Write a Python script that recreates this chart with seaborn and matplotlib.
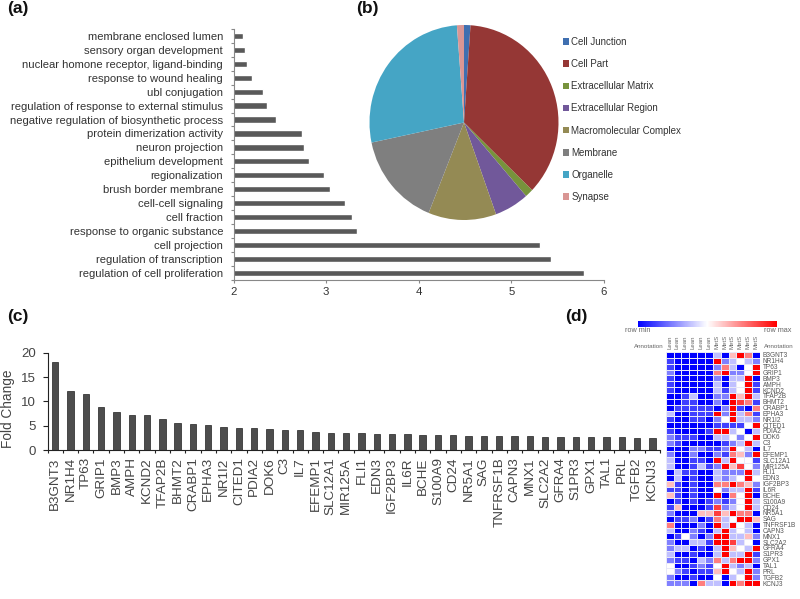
################################################
#                 Libraries
################################################
import numpy as np
import matplotlib
matplotlib.use("Agg")
import matplotlib.pyplot as plt
from matplotlib.colors import LinearSegmentedColormap
from matplotlib.patches import Patch
from matplotlib.ticker import FixedLocator
import seaborn as sns

################################################
#                   Data
################################################
# (a) enrichment scores
go_terms = ["membrane enclosed lumen", "sensory organ development",
            "nuclear homone receptor, ligand-binding", "response to wound healing",
            "ubl conjugation", "regulation of response to external stimulus",
            "negative regulation of biosynthetic process", "protein dimerization activity",
            "neuron projection", "epithelium development", "regionalization",
            "brush border membrane", "cell-cell signaling", "cell fraction",
            "response to organic substance", "cell projection",
            "regulation of transcription", "regulation of cell proliferation"]
go_scores = [2.10, 2.12, 2.15, 2.20, 2.32, 2.365, 2.455, 2.735, 2.76, 2.815,
             2.98, 3.04, 3.20, 3.28, 3.335, 5.31, 5.425, 5.78]

# (b) cellular component shares
pie_labels = ["Cell Junction", "Cell Part", "Extracellular Matrix", "Extracellular Region",
              "Macromolecular Complex", "Membrane", "Organelle", "Synapse"]
pie_values = [1.1, 36.1, 1.4, 5.9, 11.6, 15.6, 27.1, 1.2]
pie_colors = ["#3f6fb0", "#953735", "#77933c", "#71589a", "#948a54", "#7f7f7f", "#45a5c5", "#d99694"]

# (c) fold change
genes = ["B3GNT3", "NR1H4", "TP63", "GRIP1", "BMP3", "AMPH", "KCND2", "TFAP2B", "BHMT2", "CRABP1",
         "EPHA3", "NR1I2", "CITED1", "PDIA2", "DOK6", "C3", "IL7", "EFEMP1", "SLC12A1", "MIR125A",
         "FLI1", "EDN3", "IGF2BP3", "IL6R", "BCHE", "S100A9", "CD24", "NR5A1", "SAG", "TNFRSF1B",
         "CAPN3", "MNX1", "SLC2A2", "GFRA4", "S1PR3", "GPX1", "TAL1", "PRL", "TGFB2", "KCNJ3"]
fold_change = [18, 12.2, 11.6, 8.8, 7.8, 7.2, 7.2, 6.5, 5.5, 5.3,
               5.1, 4.8, 4.5, 4.5, 4.3, 4.1, 4.1, 3.8, 3.6, 3.6,
               3.6, 3.4, 3.4, 3.3, 3.1, 3.1, 3.1, 2.9, 2.9, 2.9,
               2.9, 2.9, 2.8, 2.8, 2.8, 2.8, 2.8, 2.8, 2.6, 2.6]

# (d) heatmap levels, 0 = row min (blue), 4 = white, 8 = row max (red)
sample_names = ["Lean"] * 6 + ["MetS"] * 6
heat_levels = [
    [0, 0, 0, 0, 0, 0, 3, 0, 5, 8, 6, 0],
    [1, 0, 0, 0, 0, 0, 8, 2, 3, 4, 3, 2],
    [1, 0, 0, 0, 0, 0, 2, 6, 3, 0, 4, 8],
    [2, 0, 0, 0, 0, 0, 6, 8, 2, 2, 4, 8],
    [1, 0, 0, 0, 0, 0, 2, 0, 3, 3, 8, 0],
    [1, 0, 0, 0, 0, 0, 3, 0, 3, 4, 8, 1],
    [1, 0, 0, 0, 0, 0, 3, 1, 3, 4, 8, 1],
    [0, 0, 1, 3, 0, 0, 2, 2, 8, 5, 8, 3],
    [0, 0, 1, 1, 0, 0, 2, 0, 8, 7, 6, 1],
    [0, 1, 1, 1, 1, 1, 0, 2, 8, 1, 0, 6],
    [3, 0, 0, 1, 1, 1, 8, 2, 8, 3, 6, 1],
    [1, 0, 0, 1, 1, 0, 2, 4, 8, 3, 3, 2],
    [0, 0, 0, 0, 0, 0, 1, 1, 1, 1, 4, 8],
    [1, 0, 0, 0, 0, 1, 8, 8, 3, 4, 0, 3],
    [2, 1, 1, 1, 0, 0, 3, 3, 4, 2, 4, 8],
    [2, 1, 0, 0, 0, 0, 0, 1, 2, 3, 8, 3],
    [0, 0, 0, 2, 2, 1, 1, 2, 8, 4, 3, 0],
    [2, 0, 0, 2, 0, 0, 2, 1, 6, 5, 2, 8],
    [3, 0, 0, 1, 1, 0, 8, 3, 8, 4, 4, 1],
    [3, 0, 0, 1, 3, 1, 2, 8, 5, 7, 4, 2],
    [0, 3, 1, 1, 0, 0, 3, 2, 2, 2, 8, 3],
    [0, 3, 0, 1, 0, 0, 3, 2, 3, 4, 8, 4],
    [5, 1, 0, 1, 0, 0, 6, 6, 8, 6, 5, 2],
    [1, 1, 0, 1, 0, 0, 4, 2, 3, 3, 8, 1],
    [5, 1, 0, 1, 0, 0, 8, 0, 6, 4, 8, 0],
    [0, 1, 0, 1, 0, 1, 2, 1, 2, 4, 8, 3],
    [1, 5, 0, 0, 0, 1, 7, 2, 3, 4, 8, 3],
    [2, 0, 0, 0, 5, 5, 7, 5, 8, 6, 6, 0],
    [0, 1, 1, 2, 0, 1, 6, 3, 4, 8, 8, 5],
    [6, 0, 0, 0, 2, 0, 8, 3, 8, 4, 3, 0],
    [3, 0, 0, 2, 1, 0, 3, 8, 3, 4, 3, 0],
    [0, 1, 4, 2, 0, 2, 8, 8, 3, 3, 5, 2],
    [2, 0, 0, 3, 3, 1, 8, 8, 7, 3, 4, 0],
    [2, 3, 3, 0, 1, 0, 3, 8, 5, 4, 3, 8],
    [3, 0, 0, 1, 0, 0, 3, 8, 3, 3, 8, 1],
    [2, 1, 1, 0, 3, 2, 6, 3, 6, 8, 8, 2],
    [4, 0, 0, 1, 2, 1, 4, 8, 3, 2, 3, 0],
    [4, 2, 1, 0, 1, 1, 5, 8, 4, 3, 8, 2],
    [2, 0, 0, 1, 0, 0, 4, 0, 3, 4, 8, 2],
    [2, 2, 2, 0, 6, 3, 3, 0, 8, 6, 8, 8],
]

################################################
#                  Figure
################################################
sns.set_style("white")
plt.rcParams["font.family"] = ["Liberation Sans", "DejaVu Sans"]

W, H = 800, 599
fig = plt.figure(figsize=(W / 100, H / 100), dpi=100)

def px_axes(left, top, right, bottom):
    # axes from pixel edges of the reference
    return fig.add_axes([left / W, 1 - bottom / H, (right - left) / W, (bottom - top) / H])

def px_text(x, y, s, **kwargs):
    fig.text(x / W, 1 - y / H, s, **kwargs)

for x, y, s in [(7, 8, "(a)"), (356, 8, "(b)"), (7, 317, "(c)"), (565, 316, "(d)")]:
    px_text(x, y, s, fontsize=12.5, fontweight="bold", va="center", color="#111111")

################################################
#            (a) horizontal bars
################################################
ax_a = px_axes(233.5, 29, 604, 279.7)
sns.barplot(x=go_scores, y=go_terms, color="#595959", saturation=1, width=0.45, ax=ax_a)
ax_a.set_xlim(2, 6)
ax_a.set_xticks([2, 3, 4, 5, 6])
ax_a.yaxis.set_minor_locator(FixedLocator(np.arange(-0.5, len(go_terms))))
ax_a.tick_params(axis="y", which="major", length=0, pad=7.5, labelsize=8.1, labelcolor="#333333")
ax_a.tick_params(axis="y", which="minor", left=True, length=2.5, color="#888888", width=0.8)
ax_a.tick_params(axis="x", bottom=True, length=2.5, color="#888888", width=0.8,
                 labelsize=8.2, labelcolor="#333333", pad=3)
sns.despine(ax=ax_a)
for side in ["left", "bottom"]:
    ax_a.spines[side].set_color("#888888")
    ax_a.spines[side].set_linewidth(0.8)
ax_a.set_xlabel("")
ax_a.set_ylabel("")

################################################
#                 (b) pie
################################################
ax_b = px_axes(369.5, 25, 558.5, 220)
ax_b.pie(pie_values, colors=pie_colors, startangle=90, counterclock=False, radius=1,
         wedgeprops={"edgecolor": "none", "linewidth": 0})
ax_b.set_aspect("auto")
ax_b.set_xlim(-1, 1)
ax_b.set_ylim(-1, 1)

handles = [Patch(facecolor=c, edgecolor="none", label=l) for c, l in zip(pie_colors, pie_labels)]
fig.legend(handles=handles, loc="upper left", bbox_to_anchor=(563 / W, 1 - 37 / H), frameon=False,
           fontsize=7.0, labelspacing=1.25, handlelength=0.65, handleheight=0.65,
           handletextpad=0.2, labelcolor="#333333", borderpad=0, borderaxespad=0)

################################################
#            (c) fold change bars
################################################
ax_c = px_axes(47.5, 352.7, 660, 450.3)
sns.barplot(x=genes, y=fold_change, color="#4d4d4d", saturation=1, width=0.42, ax=ax_c,
            edgecolor="#222222", linewidth=0.5)
ax_c.set_ylim(0, 20)
ax_c.set_yticks([0, 5, 10, 15, 20])
ax_c.xaxis.set_minor_locator(FixedLocator(np.arange(-0.5, len(genes))))
ax_c.tick_params(axis="x", which="major", length=0, pad=5, labelsize=9.7, labelcolor="#444444",
                 labelrotation=90)
ax_c.tick_params(axis="x", which="minor", bottom=True, length=2.5, color="#222222", width=0.8)
ax_c.tick_params(axis="y", left=True, length=3.5, color="#222222", width=0.8, labelsize=9.5,
                 labelcolor="#444444", pad=5)
sns.despine(ax=ax_c)
for side in ["left", "bottom"]:
    ax_c.spines[side].set_color("#222222")
    ax_c.spines[side].set_linewidth(0.8)
ax_c.set_ylabel("")
px_text(8, 409, "Fold Change", rotation=90, fontsize=9.8, color="#444444", ha="center", va="center")

################################################
#               (d) heatmap
################################################
blue_white_red = LinearSegmentedColormap.from_list("row_scale", ["#0000ff", "#ffffff", "#ff0000"])

ax_d = px_axes(665.7, 352, 760, 586)
ax_cbar = px_axes(637.7, 320.7, 776.7, 326.7)
sns.heatmap(np.array(heat_levels), cmap=blue_white_red, vmin=0, vmax=8, linewidths=0.6,
            linecolor="#e8e8f8", xticklabels=sample_names, yticklabels=genes, ax=ax_d,
            cbar_ax=ax_cbar, cbar_kws={"orientation": "horizontal"})
ax_cbar.tick_params(bottom=False, labelbottom=False)
for spine in ax_cbar.spines.values():
    spine.set_visible(False)

ax_d.xaxis.tick_top()
ax_d.yaxis.tick_right()
ax_d.tick_params(axis="x", length=0, pad=2.5, labelsize=4.3, labelcolor="#666666", labelrotation=90)
ax_d.tick_params(axis="y", length=0, pad=2, labelsize=4.7, labelcolor="#555555", labelrotation=0)

px_text(625, 331, "row min", fontsize=5.2, color="#666666", va="center")
px_text(791, 331, "row max", fontsize=5.2, color="#666666", va="center", ha="right")
px_text(664, 347, "Annotation", fontsize=4.5, color="#666666", va="center", ha="right")
px_text(764, 347, "Annotation", fontsize=4.5, color="#666666", va="center")

plt.savefig("out.png", dpi=100)
plt.close()
